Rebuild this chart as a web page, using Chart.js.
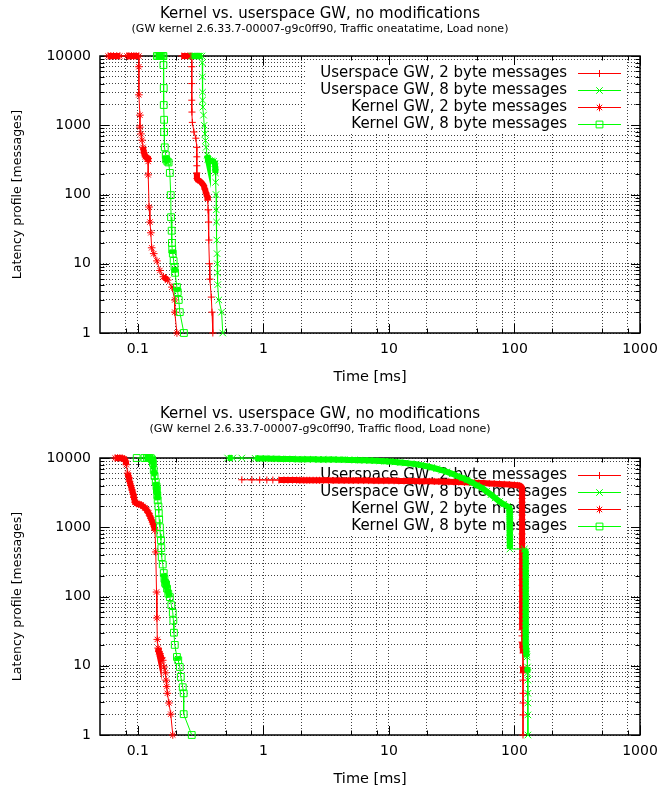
<!DOCTYPE html>
<html>
<head>
<meta charset="utf-8">
<title>Kernel vs. userspace GW latency profile</title>
<script src="https://cdn.jsdelivr.net/npm/chart.js@4.4.1/dist/chart.umd.min.js"></script>
<style>
  body { margin: 0; background: #fff; }
  canvas { position: absolute; left: 0; }
  #oneatatime { top: 0; }
  #flood { top: 400px; }
</style>
</head>
<body>
<canvas id="oneatatime" width="660" height="387"></canvas>
<canvas id="flood" width="660" height="389"></canvas>
<script>
// Series, in the order gnuplot plotted them
const seriesLabels = [
    'Userspace GW, 2 byte messages',
    'Userspace GW, 8 byte messages',
    'Kernel GW, 2 byte messages',
    'Kernel GW, 8 byte messages'
];
const seriesColors = ['#ff0000', '#00ff00', '#ff0000', '#00ff00'];
const seriesMarkers = ['cross', 'crossRot', 'star', 'rect'];
const markerSizes = [3.5, 4.6, 3.8, 4.8];

// Axis tics (log scales)
const xTicks = [0.08, 0.1, 0.2, 0.5, 0.8, 1, 2, 5, 8, 10, 20, 50, 80, 100, 200, 500, 800, 1000];
const xLabels = [0.1, 1, 10, 100, 1000];
const yTicks = [1, 2, 3, 4, 5, 6, 7, 8, 9, 10, 20, 30, 40, 50, 60, 70, 80, 90,
    100, 200, 300, 400, 500, 600, 700, 800, 900,
    1000, 2000, 3000, 4000, 5000, 6000, 7000, 8000, 9000, 10000];
const yLabels = [1, 10, 100, 1000, 10000];

// Traffic oneatatime: [latency ms, messages]
const oneUser2 = [[0.224,10000],[0.237,10000],[0.250,10000],[0.260,10000],[0.269,9990],[0.269,7000],[0.269,4000],[0.269,2300],[0.270,1550],[0.272,1100],[0.280,800],[0.290,650],[0.295,480],[0.295,350],[0.295,260],[0.295,205],[0.296,170],[0.300,162],[0.310,158],[0.320,150],[0.335,135],[0.342,120],[0.350,105],[0.356,95],[0.361,83],[0.363,60],[0.366,40],[0.368,22],[0.372,10],[0.375,6],[0.385,3.3],[0.390,2],[0.396,1]];
const oneUser8 = [[0.269,10000],[0.280,10000],[0.290,10000],[0.300,10000],[0.312,10000],[0.324,9990],[0.326,8000],[0.327,5000],[0.328,3000],[0.328,2300],[0.330,1830],[0.334,1400],[0.338,1000],[0.342,750],[0.346,600],[0.350,480],[0.356,370],[0.362,320],[0.372,310],[0.385,305],[0.400,300],[0.411,280],[0.413,250],[0.415,205],[0.417,150],[0.420,100],[0.422,60],[0.424,40],[0.426,22],[0.428,14],[0.430,10],[0.432,7.4],[0.434,5],[0.442,3],[0.465,2],[0.475,1]];
const oneKern2 = [[0.058,10000],[0.061,10000],[0.064,10000],[0.068,10000],[0.072,10000],[0.082,10000],[0.085,10000],[0.089,10000],[0.093,10000],[0.097,9995],[0.102,9980],[0.102,7000],[0.102,2750],[0.104,1400],[0.104,940],[0.106,750],[0.108,610],[0.110,480],[0.112,400],[0.115,350],[0.118,340],[0.121,330],[0.121,300],[0.121,192],[0.123,66],[0.125,40],[0.127,28],[0.129,17],[0.134,14],[0.142,11],[0.150,8],[0.160,6.5],[0.173,5.8],[0.187,4.6],[0.197,3],[0.197,2],[0.205,1]];
const oneKern8 = [[0.142,10000],[0.146,10000],[0.150,10000],[0.154,10000],[0.158,10000],[0.160,9990],[0.160,7400],[0.161,3450],[0.161,1960],[0.162,1200],[0.162,800],[0.164,480],[0.167,370],[0.168,320],[0.172,300],[0.176,290],[0.180,205],[0.183,98],[0.184,47],[0.186,30],[0.187,20],[0.188,16],[0.190,14],[0.193,11],[0.196,9],[0.198,7.4],[0.205,4.6],[0.208,3.9],[0.212,3],[0.216,2],[0.233,1]];

// Traffic flood: [latency ms, messages]
const floodUser2 = [[0.674,4850],[0.81,4840],[0.935,4830],[1.066,4820],[1.19,4815],[1.33,4810],[1.46,4805],[1.57,4800],[1.71,4800],[1.84,4795],[1.95,4790],[2.10,4785],[2.22,4780],[2.34,4780],[2.49,4775],[2.65,4770],[2.80,4765],[3.0,4760],[3.3,4755],[3.6,4750],[4.0,4745],[4.4,4740],[4.8,4735],[5.2,4730],[5.7,4725],[6.3,4720],[6.9,4715],[7.6,4710],[8.3,4700],[9.1,4695],[10,4690],[11,4680],[12,4670],[13.2,4660],[14.5,4650],[16,4640],[17.5,4630],[19,4620],[21,4600],[23,4590],[25,4570],[27.5,4550],[30,4530],[33,4510],[36,4490],[40,4460],[44,4430],[48,4400],[52,4370],[57,4340],[63,4300],[69,4260],[76,4220],[83,4180],[91,4130],[100,4080],[106,4030],[110,3980],[113,3900],[114.5,3750],[115,3500],[115,3200],[115,2900],[115,2600],[115,2300],[115,2000],[115,1750],[115,1500],[115,1300],[115,1100],[115,950],[115,800],[115,680],[115,580],[115,490],[115,410],[115,350],[115,300],[115,250],[115,210],[115,175],[115,145],[115,120],[115,100],[115,84],[115,70],[115,58],[115,48],[115,40],[115,33],[115,27],[115,22],[116,18.5],[117,15.3],[117,9.6],[117,7.9],[117,6.2],[117,4],[117,2.9],[117,1.95],[117,1]];
const floodUser8 = [[0.52,10000],[0.571,9995],[0.674,9990],[0.86,9900],[0.95,9850],[1.05,9800],[1.15,9760],[1.27,9720],[1.4,9690],[1.54,9660],[1.7,9640],[1.87,9620],[2.05,9600],[2.25,9580],[2.5,9560],[2.75,9540],[3.0,9520],[3.3,9500],[3.6,9480],[4.0,9450],[4.4,9420],[4.8,9390],[5.3,9350],[5.8,9310],[6.4,9260],[7.0,9200],[7.7,9130],[8.5,9050],[9.3,8960],[10.2,8870],[11.2,8760],[12.3,8640],[13.5,8480],[15,8300],[16.5,8100],[18,7900],[20,7600],[22,7300],[24,7000],[26.5,6650],[29,6300],[32,5900],[35,5500],[38.5,5150],[42,4800],[46,4400],[50,4050],[55,3700],[60,3300],[65,2950],[70,2650],[76,2350],[82,2150],[88,2000],[91,1900],[92,1700],[92,1500],[92,1300],[92,1150],[92,1000],[92,880],[92,770],[92,680],[92,600],[92,540],[92,485],[120,485],[123,440],[123,400],[123,360],[123,325],[123,290],[123,260],[123,235],[123,210],[123,190],[123,170],[123,150],[123,135],[123,120],[123,108],[123,96],[123,86],[123,77],[123,68],[123,60],[123,53],[123,47],[123,42],[123,37],[123,33],[123,29],[123,26],[123,23],[123,20],[124,18],[124,16],[125,14.5],[126,13.4],[127,9.6],[127,7.9],[128,6.2],[128,4],[128,2.9],[128,1.95],[128,1]];
const floodKern2 = [[0.066,10000],[0.069,10000],[0.072,10000],[0.075,9950],[0.078,9700],[0.080,9000],[0.081,8000],[0.083,6050],[0.085,5200],[0.086,4600],[0.088,4000],[0.090,3450],[0.092,3000],[0.093,2700],[0.095,2300],[0.098,2200],[0.102,2150],[0.106,2100],[0.110,2000],[0.114,1900],[0.118,1770],[0.122,1600],[0.125,1450],[0.129,1270],[0.133,1100],[0.137,910],[0.139,440],[0.141,116],[0.142,49],[0.143,24],[0.145,18],[0.147,16],[0.150,15],[0.154,13],[0.158,12],[0.162,9.6],[0.166,7.9],[0.168,6.2],[0.170,5],[0.172,4],[0.177,2.9],[0.183,2],[0.190,1]];
const floodKern8 = [[0.098,10000],[0.113,10000],[0.118,10000],[0.123,10000],[0.127,9950],[0.130,9500],[0.132,8500],[0.134,6700],[0.136,5500],[0.139,4500],[0.141,3900],[0.142,3450],[0.143,2900],[0.144,2450],[0.146,2000],[0.147,1600],[0.148,1300],[0.150,1000],[0.151,800],[0.153,650],[0.154,500],[0.155,370],[0.158,290],[0.161,218],[0.163,180],[0.165,157],[0.168,150],[0.171,130],[0.175,110],[0.180,98],[0.185,75],[0.190,58],[0.192,45],[0.194,30],[0.197,20],[0.205,13.4],[0.210,12],[0.216,9.6],[0.220,6.9],[0.228,4.9],[0.232,4],[0.232,2],[0.269,1]];

Chart.defaults.font.family = '"DejaVu Sans", sans-serif';
Chart.defaults.color = '#000';

// Where markers pile up the curve reads as a solid band
function denseWidth(ctx) {
    const d = Math.hypot(ctx.p1.x - ctx.p0.x, ctx.p1.y - ctx.p0.y);
    return d < 6 ? 6 : 1;
}

function buildDatasets(series) {
    return series.map(function (pairs, i) {
        return {
            label: seriesLabels[i],
            data: pairs.map(p => ({ x: p[0], y: p[1] })),
            borderColor: seriesColors[i],
            borderWidth: 1,
            pointStyle: seriesMarkers[i],
            pointRadius: markerSizes[i],
            pointBorderColor: seriesColors[i],
            pointBackgroundColor: 'rgba(0,0,0,0)',
            pointBorderWidth: 1,
            order: series.length - i,
            clip: false,
            segment: { borderWidth: denseWidth }
        };
    });
}

// gnuplot style key, border and inward tics, drawn under the curves
const framePlugin = {
    id: 'frame',
    beforeDatasetsDraw(chart) {
        const { ctx, chartArea: a, scales } = chart;
        ctx.save();
        ctx.setLineDash([]);

        // key
        ctx.fillStyle = '#fff';
        ctx.fillRect(a.left + 205, a.top + 6, a.right - a.left - 219, 70);
        ctx.font = '15px "DejaVu Sans"';
        ctx.textAlign = 'right';
        ctx.textBaseline = 'middle';
        seriesLabels.forEach(function (label, i) {
            const y = Math.round(a.top + 17 + 17 * i) + 0.5;
            ctx.fillStyle = '#000';
            ctx.fillText(label, a.right - 73, y);
            ctx.strokeStyle = seriesColors[i];
            ctx.lineWidth = 1;
            ctx.beginPath();
            ctx.moveTo(a.right - 62, y);
            ctx.lineTo(a.right - 19, y);
            ctx.stroke();
            ctx.fillStyle = 'rgba(0,0,0,0)';
            Chart.helpers.drawPoint(ctx, {
                pointStyle: seriesMarkers[i], radius: markerSizes[i], rotation: 0, borderWidth: 1
            }, a.right - 40.5, y);
        });

        // border
        ctx.strokeStyle = '#000';
        ctx.lineWidth = 1.5;
        ctx.strokeRect(a.left, a.top, a.right - a.left, a.bottom - a.top);

        // tics on all four sides, pointing inwards
        ctx.lineWidth = 1;
        ctx.beginPath();
        scales.x.ticks.forEach(function (t) {
            const px = Math.round(scales.x.getPixelForValue(t.value)) + 0.5;
            const len = xLabels.includes(t.value) ? 9 : 4.5;
            ctx.moveTo(px, a.bottom); ctx.lineTo(px, a.bottom - len);
            ctx.moveTo(px, a.top); ctx.lineTo(px, a.top + len);
        });
        scales.y.ticks.forEach(function (t) {
            const py = Math.round(scales.y.getPixelForValue(t.value)) + 0.5;
            const len = yLabels.includes(t.value) ? 9 : 4.5;
            ctx.moveTo(a.left, py); ctx.lineTo(a.left + len, py);
            ctx.moveTo(a.right, py); ctx.lineTo(a.right - len, py);
        });
        ctx.stroke();
        ctx.restore();
    }
};

function createProfileChart(canvasId, subtitle, series, gapBelowTitle) {
    // outer tick marks stay invisible, they only space the labels
    const grid = { color: 'rgba(0,0,0,0.75)', lineWidth: 1, drawTicks: true, tickLength: 6, tickColor: 'rgba(0,0,0,0)' };
    const border = { display: false, dash: [1, 2] };
    return new Chart(document.getElementById(canvasId), {
        type: 'line',
        data: { datasets: buildDatasets(series) },
        plugins: [framePlugin],
        options: {
            responsive: false,
            animation: false,
            events: [],
            layout: { padding: { left: 0, right: 20, top: 0, bottom: 0 } },
            plugins: {
                legend: { display: false },
                tooltip: { enabled: false },
                title: {
                    display: true,
                    text: 'Kernel vs. userspace GW, no modifications',
                    font: { size: 15, weight: 'normal' },
                    padding: { top: 5, bottom: 0 }
                },
                subtitle: {
                    display: true,
                    text: subtitle,
                    font: { size: 11, weight: 'normal' },
                    padding: { top: 0, bottom: gapBelowTitle }
                }
            },
            scales: {
                x: {
                    type: 'logarithmic',
                    min: 0.05,
                    max: 1000,
                    grid: grid,
                    border: border,
                    afterBuildTicks: s => { s.ticks = xTicks.map(v => ({ value: v })); },
                    afterFit: s => { s.height = 54; },
                    ticks: {
                        autoSkip: false,
                        maxRotation: 0,
                        padding: 2,
                        font: { size: 14 },
                        callback: v => (xLabels.includes(v) ? String(v) : '')
                    },
                    title: {
                        display: true,
                        text: 'Time [ms]',
                        font: { size: 14.5 },
                        padding: { top: 0, bottom: 1 }
                    }
                },
                y: {
                    type: 'logarithmic',
                    min: 1,
                    max: 10000,
                    grid: grid,
                    border: border,
                    afterBuildTicks: s => { s.ticks = yTicks.map(v => ({ value: v })); },
                    afterFit: s => { s.width = 100; },
                    ticks: {
                        autoSkip: false,
                        padding: 3,
                        font: { size: 14 },
                        callback: v => (yLabels.includes(v) ? String(v) : '')
                    },
                    title: {
                        display: true,
                        text: 'Latency profile [messages]',
                        font: { size: 12.5 },
                        padding: { top: 10, bottom: 0 }
                    }
                }
            }
        }
    });
}

createProfileChart('oneatatime',
    '(GW kernel 2.6.33.7-00007-g9c0ff90, Traffic oneatatime, Load none)',
    [oneUser2, oneUser8, oneKern2, oneKern8], 19.8);
createProfileChart('flood',
    '(GW kernel 2.6.33.7-00007-g9c0ff90, Traffic flood, Load none)',
    [floodUser2, floodUser8, floodKern2, floodKern8], 21.8);
</script>
</body>
</html>
